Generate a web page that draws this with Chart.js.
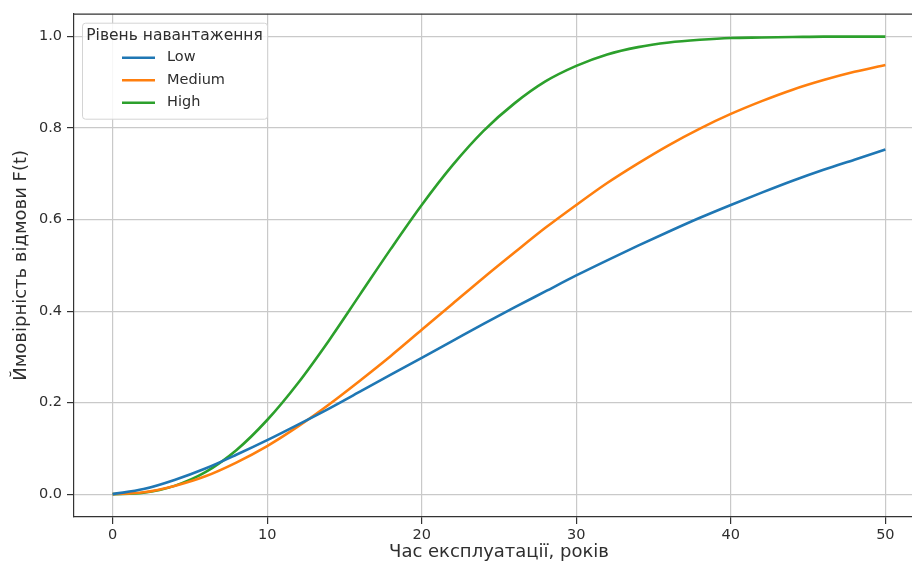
<!DOCTYPE html>
<html>
<head>
<meta charset="utf-8">
<script src="https://cdn.jsdelivr.net/npm/chart.js@4"></script>
<style>
	html, body { margin: 0; padding: 0; background: #fff; overflow: hidden; }
	#wrap { width: 924px; height: 570px; }
</style>
</head>
<body>
<div id="wrap"><canvas id="chart" width="924" height="570"></canvas></div>
<script>
// Values
const years = [0, 2, 4, 6, 8, 10, 12, 14, 16, 18, 20, 22, 24, 26, 28, 30, 32, 34, 36, 38, 40, 42, 44, 46, 48, 50];
const lowValues = [0, 0.011, 0.031, 0.056, 0.086, 0.118, 0.152, 0.187, 0.224, 0.261, 0.298, 0.335, 0.372, 0.408, 0.443, 0.478, 0.511, 0.543, 0.574, 0.604, 0.632, 0.659, 0.685, 0.709, 0.731, 0.753];
const mediumValues = [0, 0.004, 0.018, 0.039, 0.069, 0.105, 0.148, 0.196, 0.248, 0.302, 0.359, 0.416, 0.473, 0.528, 0.582, 0.632, 0.680, 0.723, 0.763, 0.799, 0.831, 0.859, 0.884, 0.905, 0.923, 0.938];
const highValues = [0, 0.003, 0.018, 0.048, 0.096, 0.162, 0.243, 0.336, 0.436, 0.536, 0.632, 0.719, 0.794, 0.854, 0.902, 0.936, 0.961, 0.977, 0.987, 0.993, 0.997, 0.998, 0.999, 1.0, 1.0, 1.0];

const seriesNames = ['Low', 'Medium', 'High'];
const seriesColors = ['#1f77b4', '#ff7f0e', '#2ca02c'];
const legendTitle = 'Рівень навантаження';
const xTicks = [0, 10, 20, 30, 40, 50];
const yTicks = [0, 0.2, 0.4, 0.6, 0.8, 1.0];
const xTitle = 'Час експлуатації, років';
const yTitle = 'Ймовірність відмови F(t)';

const FONT = '"DejaVu Sans", sans-serif';
const TEXT = '#2e2e2e';

const toPoints = vals => vals.map((v, i) => ({ x: years[i], y: v }));

// top/right spines
const frame = {
	id: 'frame',
	beforeDatasetsDraw(chart) {
		const { ctx, chartArea: a } = chart;
		ctx.save();
		ctx.strokeStyle = '#333';
		ctx.lineWidth = 1.2;
		ctx.beginPath();
		ctx.moveTo(a.left, a.top + 0.5);
		ctx.lineTo(a.right, a.top + 0.5);
		ctx.moveTo(a.right - 0.5, a.top);
		ctx.lineTo(a.right - 0.5, a.bottom);
		ctx.stroke();
		ctx.restore();
	}
};

// matplotlib-like legend box in upper left
const boxLegend = {
	id: 'boxLegend',
	afterDraw(chart) {
		const { ctx, chartArea } = chart;
		const x = chartArea.left + 8, y = chartArea.top + 9, w = 185, h = 96;
		ctx.save();
		ctx.fillStyle = 'rgba(255,255,255,0.85)';
		ctx.strokeStyle = '#d4d4d4';
		ctx.lineWidth = 1;
		ctx.beginPath();
		ctx.roundRect(x + 0.5, y + 0.5, w, h, 3);
		ctx.fill();
		ctx.stroke();

		ctx.fillStyle = TEXT;
		ctx.font = '15.5px ' + FONT;
		ctx.textAlign = 'center';
		ctx.textBaseline = 'middle';
		ctx.fillText(legendTitle, x + w / 2, y + 13);

		chart.data.datasets.forEach((ds, i) => {
			const cy = y + 35 + i * 22.5;
			ctx.strokeStyle = ds.borderColor;
			ctx.lineWidth = 2.6;
			ctx.beginPath();
			ctx.moveTo(x + 40, cy);
			ctx.lineTo(x + 73, cy);
			ctx.stroke();
			ctx.fillStyle = TEXT;
			ctx.textAlign = 'left';
			ctx.font = '14.5px ' + FONT;
			ctx.fillText(ds.label, x + 85, cy);
		});
		ctx.restore();
	}
};

const seriesData = [lowValues, mediumValues, highValues];

new Chart(document.getElementById('chart').getContext('2d'), {
	type: 'line',
	data: {
		datasets: seriesNames.map((name, i) => ({
			label: name,
			data: toPoints(seriesData[i]),
			borderColor: seriesColors[i],
			backgroundColor: seriesColors[i],
			borderWidth: 2.6,
			pointRadius: 0,
			cubicInterpolationMode: 'monotone',
			fill: false
		}))
	},
	options: {
		responsive: false,
		devicePixelRatio: 1,
		animation: false,
		layout: { padding: { top: 11, right: 0, left: 0, bottom: 0 } },
		plugins: {
			legend: { display: false },
			tooltip: { enabled: false }
		},
		scales: {
			x: {
				type: 'linear',
				min: -2.5,
				max: 52.5,
				afterBuildTicks: s => { s.ticks = xTicks.map(v => ({ value: v })); },
				afterFit: s => { s.height = 53; },
				ticks: {
					color: TEXT,
					font: { family: FONT, size: 14.5 },
					padding: 3,
					maxRotation: 0,
					callback: v => String(v)
				},
				grid: { color: '#c9c9c9', lineWidth: 1.2, tickColor: '#333', tickLength: 7 },
				border: { color: '#333', width: 1.2 },
				title: {
					display: true,
					text: xTitle,
					color: TEXT,
					font: { family: FONT, size: 18 },
					padding: { top: 0, bottom: 7 }
				}
			},
			y: {
				type: 'linear',
				min: -0.05,
				max: 1.05,
				afterBuildTicks: s => { s.ticks = yTicks.map(v => ({ value: v })); },
				afterFit: s => { s.width = 74; },
				ticks: {
					color: TEXT,
					font: { family: FONT, size: 14.5 },
					padding: 5,
					callback: v => Number(v).toFixed(1)
				},
				grid: { color: '#c9c9c9', lineWidth: 1.2, tickColor: '#333', tickLength: 7 },
				border: { color: '#333', width: 1.2 },
				title: {
					display: true,
					text: yTitle,
					color: TEXT,
					font: { family: FONT, size: 18 },
					padding: { top: 11, bottom: 0 }
				}
			}
		}
	},
	plugins: [frame, boxLegend]
});
</script>
</body>
</html>
